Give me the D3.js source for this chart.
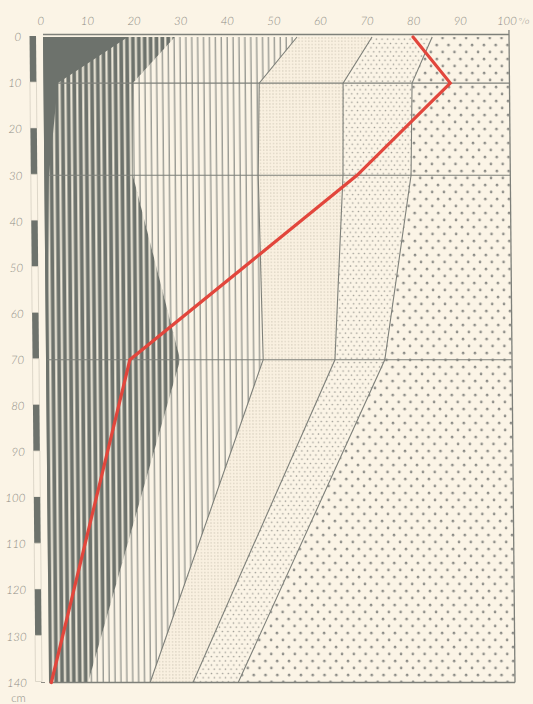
<!DOCTYPE html>
<html>
<head>
<meta charset="utf-8">
<script src="https://cdn.jsdelivr.net/npm/d3@7"></script>
<style>
  html, body { margin: 0; padding: 0; background: #fbf4e6; }
  svg { display: block; }
</style>
</head>
<body>
<svg id="chart" width="533" height="704"></svg>
<script>
// Depths (cm) at which the profile was sampled
const depths = [0, 10, 30, 70, 140];

// Cumulative share (%) of each fraction, read left to right
const stoneEdge  = [18.2,  3.1,  1.0,  0.3,  0.0];  // solid dark band
const darkEdge   = [28.3, 19.2, 19.0, 28.8,  8.4];  // dark hatched band
const linedEdge  = [54.5, 46.3, 45.9, 46.6, 21.7];  // thin vertical lines
const fineEdge   = [70.6, 64.3, 64.1, 62.0, 30.9];  // fine dots
const mediumEdge = [83.5, 79.1, 78.7, 72.7, 40.6];  // medium dots, coarse dots to 100

// Red curve across the profile (%)
const redCurve   = [79.4, 87.3, 67.1, 18.0, 0.5];

// Axis ticks
const xTicks = [0, 10, 20, 30, 40, 50, 60, 70, 80, 90, 100];
const yTicks = [0, 10, 20, 30, 40, 50, 60, 70, 80, 90, 100, 110, 120, 130, 140];
const horizonDepths = [10, 30, 70];
const rulerStarts = [0, 10, 20, 30, 40, 50, 60, 70, 80, 90, 100, 110, 120, 130];

const C = {
  bg: "#fbf4e6",
  dark: "#6d726c",
  gap: "#efe9da",
  grid: "#7e807a",
  label: "#8e8c85",
  fine: "#c6bfae",
  medium: "#9a9891",
  coarse: "#8a8a85",
  red: "#e2463c"
};

const svg = d3.select("#chart");
const x = d3.scaleLinear().domain([0, 100]).range([46, 512]);
const y = d3.scaleLinear().domain([0, 140]).range([37, 682.5]);

// the printed sheet leans slightly to the right going down
const cy = 358;
const g = svg.append("g")
  .attr("transform", `translate(0,${cy}) skewX(0.53) translate(0,${-cy})`);

// ---- fill patterns ----
const defs = svg.append("defs");
const step = 5.9;

const pDark = defs.append("pattern").attr("id", "darkHatch")
  .attr("patternUnits", "userSpaceOnUse")
  .attr("x", x(0)).attr("y", 0).attr("width", step).attr("height", 10);
pDark.append("rect").attr("width", step).attr("height", 10).attr("fill", C.dark);
pDark.append("rect").attr("x", 3.2).attr("width", 2.1).attr("height", 10).attr("fill", C.gap);

const pLined = defs.append("pattern").attr("id", "lined")
  .attr("patternUnits", "userSpaceOnUse")
  .attr("x", x(0)).attr("y", 0).attr("width", step).attr("height", 10);
pLined.append("rect").attr("width", step).attr("height", 10).attr("fill", C.bg);
pLined.append("rect").attr("x", 0.6).attr("width", 1.2).attr("height", 10).attr("fill", "#8a8c86");

const pFine = defs.append("pattern").attr("id", "fineDots")
  .attr("patternUnits", "userSpaceOnUse")
  .attr("width", 3.3).attr("height", 3.3);
pFine.append("rect").attr("width", 3.3).attr("height", 3.3).attr("fill", "#f9f0e0");
pFine.append("circle").attr("cx", 1.6).attr("cy", 1.6).attr("r", 0.62).attr("fill", C.fine);

const pMed = defs.append("pattern").attr("id", "mediumDots")
  .attr("patternUnits", "userSpaceOnUse")
  .attr("width", 5.6).attr("height", 8.4);
pMed.append("rect").attr("width", 5.6).attr("height", 8.4).attr("fill", C.bg);
pMed.append("circle").attr("cx", 1.4).attr("cy", 1.4).attr("r", 0.8).attr("fill", C.medium);
pMed.append("circle").attr("cx", 4.2).attr("cy", 5.6).attr("r", 0.8).attr("fill", C.medium);

const pCoarse = defs.append("pattern").attr("id", "coarseDots")
  .attr("patternUnits", "userSpaceOnUse")
  .attr("width", 11.8).attr("height", 14);
pCoarse.append("rect").attr("width", 11.8).attr("height", 14).attr("fill", C.bg);
pCoarse.append("circle").attr("cx", 3).attr("cy", 3).attr("r", 1.35).attr("fill", C.coarse);
pCoarse.append("circle").attr("cx", 8.9).attr("cy", 10).attr("r", 1.35).attr("fill", C.coarse);

// ---- stacked bands ----
const full = depths.map(() => 100);
const zero = depths.map(() => 0);
const bands = [
  { left: darkEdge,   right: full,       fill: "url(#coarseDots)" },
  { left: fineEdge,   right: mediumEdge, fill: "url(#mediumDots)" },
  { left: linedEdge,  right: fineEdge,   fill: "url(#fineDots)" },
  { left: darkEdge,   right: linedEdge,  fill: "url(#lined)" },
  { left: zero,       right: darkEdge,   fill: "url(#darkHatch)" },
  { left: zero,       right: stoneEdge,  fill: C.dark }
];

const area = d3.area()
  .y(d => y(d.depth))
  .x0(d => x(d.l))
  .x1(d => x(d.r));

bands.forEach(b => {
  const rows = depths.map((dep, i) => ({ depth: dep, l: b.left[i], r: b.right[i] }));
  g.append("path").attr("d", area(rows)).attr("fill", b.fill).attr("stroke", "none");
});

// ---- horizon lines and frame ----
horizonDepths.forEach(dep => {
  g.append("line")
    .attr("x1", x(stoneEdge[depths.indexOf(dep)])).attr("x2", x(100))
    .attr("y1", y(dep)).attr("y2", y(dep))
    .attr("stroke", C.grid).attr("stroke-width", 1.1);
});
g.append("line").attr("x1", x(0)).attr("x2", x(100))
  .attr("y1", y(0) - 2.5).attr("y2", y(0) - 2.5)
  .attr("stroke", C.grid).attr("stroke-width", 1.3);
g.append("line").attr("x1", x(0)).attr("x2", x(100))
  .attr("y1", y(140)).attr("y2", y(140))
  .attr("stroke", C.grid).attr("stroke-width", 1.3);
g.append("line").attr("x1", x(100)).attr("x2", x(100))
  .attr("y1", y(0) - 7).attr("y2", y(140))
  .attr("stroke", C.grid).attr("stroke-width", 1.3);

// band boundaries
const edgeLine = d3.line().x(d => x(d.v)).y(d => y(d.depth));
[linedEdge, fineEdge, mediumEdge].forEach(edge => {
  g.append("path")
    .attr("d", edgeLine(depths.map((dep, i) => ({ depth: dep, v: edge[i] }))))
    .attr("fill", "none").attr("stroke", C.grid).attr("stroke-width", 1.1);
});

// ---- red curve ----
g.append("path")
  .attr("d", edgeLine(depths.map((dep, i) => ({ depth: dep, v: redCurve[i] }))))
  .attr("fill", "none").attr("stroke", C.red).attr("stroke-width", 3.2)
  .attr("stroke-linejoin", "miter").attr("stroke-linecap", "round");

// ---- depth ruler ----
rulerStarts.forEach(d0 => {
  const dark = (d0 / 10) % 2 === 0;
  g.append("rect")
    .attr("x", 32.5).attr("width", 6.5)
    .attr("y", y(d0) - 1).attr("height", y(d0 + 10) - y(d0))
    .attr("fill", dark ? C.dark : "none")
    .attr("stroke", dark ? "none" : "#d6d0c2")
    .attr("stroke-width", 0.8);
});

// ---- axes ----
const fontFamily = "Lato, 'Open Sans', sans-serif";

const xAxis = g.append("g")
  .attr("transform", `translate(-2.5,${y(0) - 12})`)
  .call(d3.axisTop(x).tickValues(xTicks).tickSize(0).tickPadding(0));
xAxis.select(".domain").remove();
xAxis.selectAll("text")
  .attr("fill", C.label).attr("font-family", fontFamily)
  .attr("font-size", 11.5).attr("font-weight", 300).attr("font-style", "italic")
  .attr("dy", "0");

// percent sign written after the last label
const lastTick = xAxis.selectAll(".tick").filter(d => d === 100);
const lastW = lastTick.select("text").node().getComputedTextLength();
lastTick.append("text")
  .attr("text-anchor", "start")
  .attr("x", lastW / 2 + 1.5).attr("y", -1)
  .attr("fill", C.label).attr("font-family", fontFamily)
  .attr("font-size", 8.5).attr("font-weight", 300).attr("font-style", "italic")
  .text("°/o");

const yAxis = g.append("g")
  .attr("transform", "translate(24,0)")
  .call(d3.axisLeft(y).tickValues(yTicks).tickSize(0).tickPadding(0));
yAxis.select(".domain").remove();
yAxis.selectAll("text")
  .attr("fill", C.label).attr("font-family", fontFamily)
  .attr("font-size", 11.5).attr("font-weight", 300).attr("font-style", "italic");

// short tick at the bottom depth
g.append("line").attr("x1", 38).attr("x2", 42)
  .attr("y1", y(140)).attr("y2", y(140))
  .attr("stroke", C.label).attr("stroke-width", 1);

g.append("text")
  .attr("x", 8).attr("y", 702)
  .attr("fill", C.label).attr("font-family", fontFamily)
  .attr("font-size", 11.5).attr("font-weight", 300)
  .text("cm");
</script>
</body>
</html>
